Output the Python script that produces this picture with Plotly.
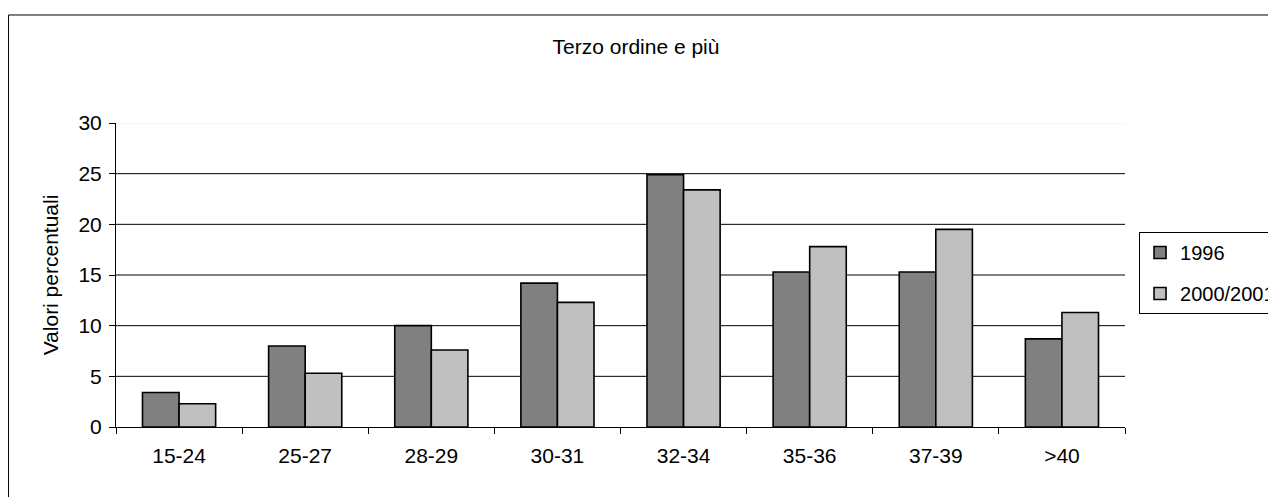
import plotly.graph_objects as go

categories = ["15-24", "25-27", "28-29", "30-31", "32-34", "35-36", "37-39", ">40"]
values_1996 = [3.4, 8.0, 10.0, 14.2, 24.9, 15.3, 15.3, 8.7]
values_2000 = [2.3, 5.3, 7.6, 12.3, 23.4, 17.8, 19.5, 11.3]
series_names = ["1996", "2000/2001"]
y_ticks = [0, 5, 10, 15, 20, 25, 30]

FONT = "Liberation Sans, Arial, sans-serif"
FS = 21

fig = go.Figure()
fig.add_trace(go.Bar(x=categories, y=values_1996, name=series_names[0],
                     marker=dict(color="#808080", line=dict(color="black", width=1.6)),
                     legendgroup="a"))
fig.add_trace(go.Bar(x=categories, y=values_2000, name=series_names[1],
                     marker=dict(color="#C0C0C0", line=dict(color="black", width=1.6)),
                     legendgroup="b"))

shapes = []
for t in y_ticks[1:]:
    shapes.append(dict(type="line", xref="paper", yref="y", x0=0, x1=1, y0=t, y1=t,
                       line=dict(color="#EEEEEE" if t == y_ticks[-1] else "black", width=1),
                       layer="below"))
# outer chart border
shapes.append(dict(type="rect", xref="paper", yref="paper", x0=-0.1065, x1=1.3, y0=-0.6, y1=1.3553,
                   line=dict(color="black", width=1), fillcolor="rgba(0,0,0,0)", layer="below"))

fig.update_layout(
    width=1268, height=489,
    margin=dict(l=108, r=151, t=115, b=70, autoexpand=False),
    paper_bgcolor="white", plot_bgcolor="white",
    font=dict(family=FONT, size=FS, color="black"),
    title=dict(text="Terzo ordine e più", x=(636 - 8) / 1268, xanchor="center",
               y=1 - 39 / 489, yanchor="middle",
               font=dict(family=FONT, size=FS, color="black")),
    barmode="group", bargap=0.42, bargroupgap=0,
    shapes=shapes,
    legend=dict(x=1.0139, y=0.6414, xanchor="left", yanchor="top",
                bordercolor="black", borderwidth=1, bgcolor="white",
                traceorder="grouped", tracegroupgap=12,
                font=dict(family=FONT, size=20, color="black")),
    xaxis=dict(showline=True, linecolor="black", linewidth=1, ticks="outside", ticklen=6,
               tickcolor="black", tickson="boundaries", showgrid=False,
               ticklabelstandoff=10,
               tickfont=dict(family=FONT, size=FS)),
    yaxis=dict(range=[0, 30], tickvals=y_ticks, showline=True, linecolor="black", linewidth=1,
               ticks="outside", ticklen=6, tickcolor="black", showgrid=False, zeroline=False,
               ticklabelstandoff=3,
               tickfont=dict(family=FONT, size=FS),
               title=dict(text="Valori percentuali", standoff=14, font=dict(family=FONT, size=FS))),
)

fig.write_html("out.html")
